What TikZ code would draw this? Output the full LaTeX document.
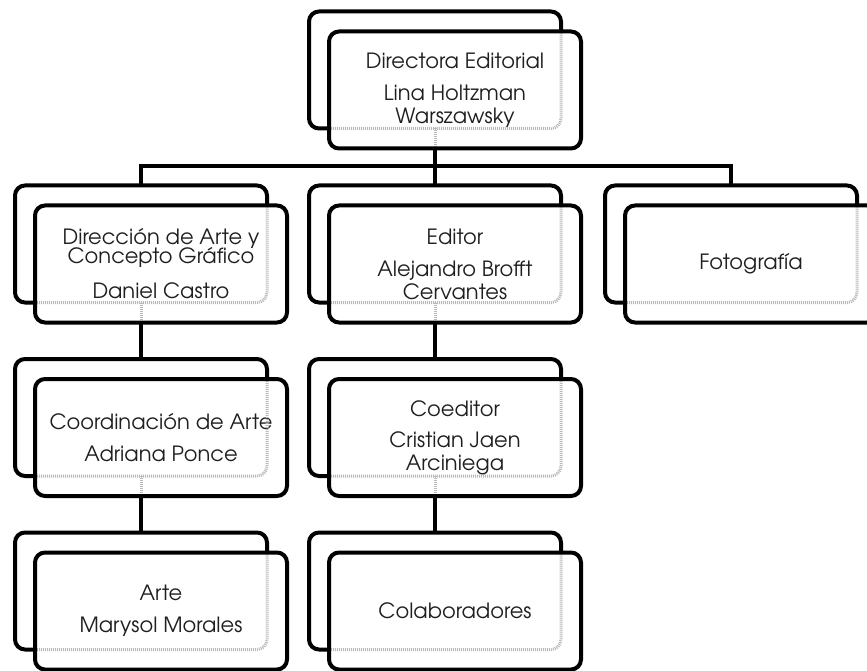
\documentclass[tikz,border=0pt]{standalone}
\usepackage{fontspec}
\setmainfont{TeX Gyre Adventor}
\tikzset{
  backbox/.style={draw, line width=4pt, rounded corners=10pt,
    minimum width=252pt, minimum height=117pt, inner sep=0pt, outer sep=0pt},
  frontbox/.style={fill=white, rounded corners=10pt,
    minimum width=252pt, minimum height=117pt, inner sep=0pt, outer sep=0pt,
    align=center, font=\fontsize{21}{23}\selectfont, text=black!88},
  rim/.style={line width=4pt, rounded corners=10pt},
  link/.style={line width=4pt},
  hidden/.style={draw=gray!55, line width=3pt, dash pattern=on 1pt off 1pt}
}
\begin{document}
\begin{tikzpicture}[x=1pt, y=-1pt]
\useasboundingbox (0,0) rectangle (867,671);
\clip (0,0) rectangle (867,671);

% back cards
\node[backbox] (b1)  at (435,70)    {};
\node[backbox] (b21) at (141,244)   {};
\node[backbox] (b22) at (435,244)   {};
\node[backbox] (b23) at (731,244)   {};
\node[backbox] (b31) at (141,417.5) {};
\node[backbox] (b32) at (435,417.5) {};
\node[backbox] (b41) at (141,591)   {};
\node[backbox] (b42) at (435,591)   {};

% connectors between the back cards
\coordinate (bus) at (435,166);
\draw[link] (b1.south) -- (bus);
\draw[link] (b21.north) |- (bus) -| (b23.north);
\draw[link] (bus) -- (b22.north);
\draw[link] (b21.south) -- (b31.north);
\draw[link] (b31.south) -- (b41.north);
\draw[link] (b22.south) -- (b32.north);
\draw[link] (b32.south) -- (b42.north);

% front cards with their texts
\node[frontbox] (f1)  at (455,90)    {Directora Editorial\\[9pt]Lina Holtzman\\Warszawsky};
\node[frontbox] (f21) at (161,264)   {Dirección de Arte y\\[-4pt]Concepto Gráfico\\[12pt]Daniel Castro};
\node[frontbox] (f22) at (455,264)   {Editor\\[9pt]Alejandro Brofft\\Cervantes};
\node[frontbox] (f23) at (751,264)   {Fotografía};
\node[frontbox] (f31) at (161,437.5) {Coordinación de Arte\\[9pt]Adriana Ponce};
\node[frontbox] (f32) at (455,437.5) {Coeditor\\[8pt]Cristian Jaen\\Arciniega};
\node[frontbox] (f41) at (161,611)   {Arte\\[9pt]Marysol Morales};
\node[frontbox] (f42) at (455,611)   {Colaboradores};

% hidden edges of the back cards, seen through the front cards
\foreach \b/\f in {b1/f1, b21/f21, b22/f22, b23/f23, b31/f31, b32/f32, b41/f41, b42/f42}{
  \begin{scope}
    \clip[rounded corners=10pt] (\f.south west) rectangle (\f.north east);
    \draw[hidden, rounded corners=10pt] (\b.south west) rectangle (\b.north east);
  \end{scope}
}
\foreach \b/\f in {b1/f1, b21/f21, b22/f22, b31/f31, b32/f32}{
  \begin{scope}
    \clip[rounded corners=10pt] (\f.south west) rectangle (\f.north east);
    \draw[hidden] (\b.south) -- (\b.south |- \f.south);
  \end{scope}
}

% front card borders
\foreach \f in {f1, f21, f22, f23, f31, f32, f41, f42}{
  \draw[rim] (\f.south west) rectangle (\f.north east);
}
\end{tikzpicture}
\end{document}
